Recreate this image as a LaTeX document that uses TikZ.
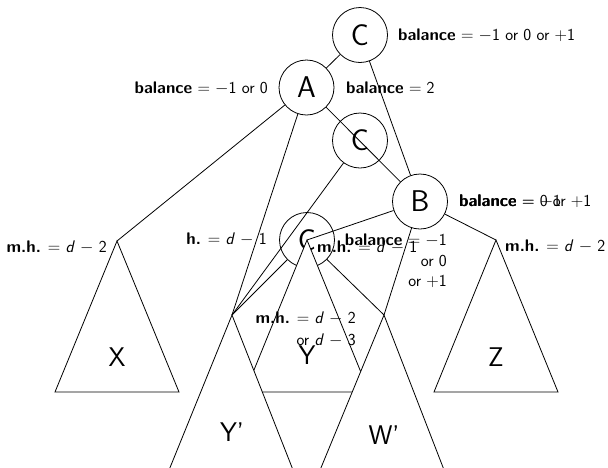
\documentclass[tikz,border=0pt]{standalone}
\usepackage{fontspec}
\renewcommand{\familydefault}{\sfdefault}
\tikzset{
  circnode/.style={circle, draw, line width=0.8pt, minimum size=55pt, inner sep=0pt, font=\fontsize{30}{32}\selectfont},
  lbl/.style={inner sep=0pt, font=\fontsize{16.8}{20.5}\selectfont},
  lbltwo/.style={inner sep=0pt, font=\fontsize{16.8}{22}\selectfont},
  tri/.style={draw, line width=0.8pt, fill=white},
  trilbl/.style={inner sep=0pt, font=\fontsize{27}{30}\selectfont},
  edge/.style={draw, line width=0.8pt}
}
\begin{document}
\begin{tikzpicture}[x=1pt,y=-1pt]
\useasboundingbox (0,0) rectangle (608,467);
% nodes
\node[circnode] (Ct) at (360,35) {C};
\node[circnode] (A) at (306.5,87.5) {A};
\node[circnode] (Cm) at (360,140.5) {C};
\node[circnode] (B) at (420,201.5) {B};
\node[circnode] (Cl) at (307,240) {C};
\coordinate (Xa) at (117,241);
\coordinate (Za) at (496,240);
\coordinate (Ya) at (307,240);
\coordinate (Ypa) at (232,315);
\coordinate (Wpa) at (384,315);
% subtree triangles X, Y, Z
\draw[tri] (Xa) -- +(-62,151) -- +(62,151) -- cycle;
\draw[tri] (Za) -- +(-62,152) -- +(62,152) -- cycle;
\draw[tri] (Ya) -- +(-62,152) -- +(62,152) -- cycle;
% edges
\draw[edge] (Ct) -- (A);
\draw[edge] (Ct) -- (B);
\draw[edge] (A) -- (B);
\draw[edge] (A) -- (Xa);
\draw[edge] (A) -- (Ypa);
\draw[edge] (Cm) -- (Ypa);
\draw[edge] (Cl) -- (Ypa);
\draw[edge] (Cl) -- (Wpa);
\draw[edge] (B) -- (Wpa);
\draw[edge] (B) -- (Za);
\draw[edge] (B) -- (Cl.center);
% subtree triangles Y', W'
\draw[tri] (Ypa) -- +(-65,160) -- +(63,160) -- cycle;
\draw[tri] (Wpa) -- +(-66,160) -- +(62,160) -- cycle;
% triangle labels
\node[trilbl] (lX) at (117,357) {X};
\node[trilbl] (lY) at (307,355) {Y};
\node[trilbl] (lZ) at (496,357) {Z};
\node[trilbl] (lYp) at (232,432) {Y'};
\node[trilbl] (lWp) at (384,435) {W'};
% text labels
\node[lbl, anchor=west] (b1) at (398,35) {\textbf{balance} $=$ $-$1 or 0 or $+$1};
\node[lbl, anchor=east] (b2) at (268,88) {\textbf{balance} $=$ $-$1 or 0};
\node[lbl, anchor=west] (b3) at (346,88) {\textbf{balance} $=$ 2};
\node[lbl, anchor=west] (b4) at (459,201) {\textbf{balance} $=$ 0 or $+$1};
\node[lbl, anchor=west] (b5) at (459,201) {\textbf{balance} $=$ $-$1};
\node[lbl, anchor=east] (m1) at (107,247) {\textbf{m.h.} $=$ \textit{d} $-$ 2};
\node[lbl, anchor=west] (m2) at (505,246) {\textbf{m.h.} $=$ \textit{d} $-$ 2};
\node[lbl, anchor=east] (h1) at (267,239) {\textbf{h.} $=$ \textit{d} $-$ 1};
\node[lbl, anchor=west] (m3) at (317,247) {\textbf{m.h.} $=$ \textit{d} $-$ 1};
\node[lbl, anchor=north east, align=right] (b6) at (447,234) {\textbf{balance} $=$ $-$1\\or 0\\or $+$1};
\node[lbltwo, anchor=north east, align=right] (m4) at (356,312) {\textbf{m.h.} $=$ \textit{d} $-$ 2\\or \textit{d} $-$ 3};
\end{tikzpicture}
\end{document}
